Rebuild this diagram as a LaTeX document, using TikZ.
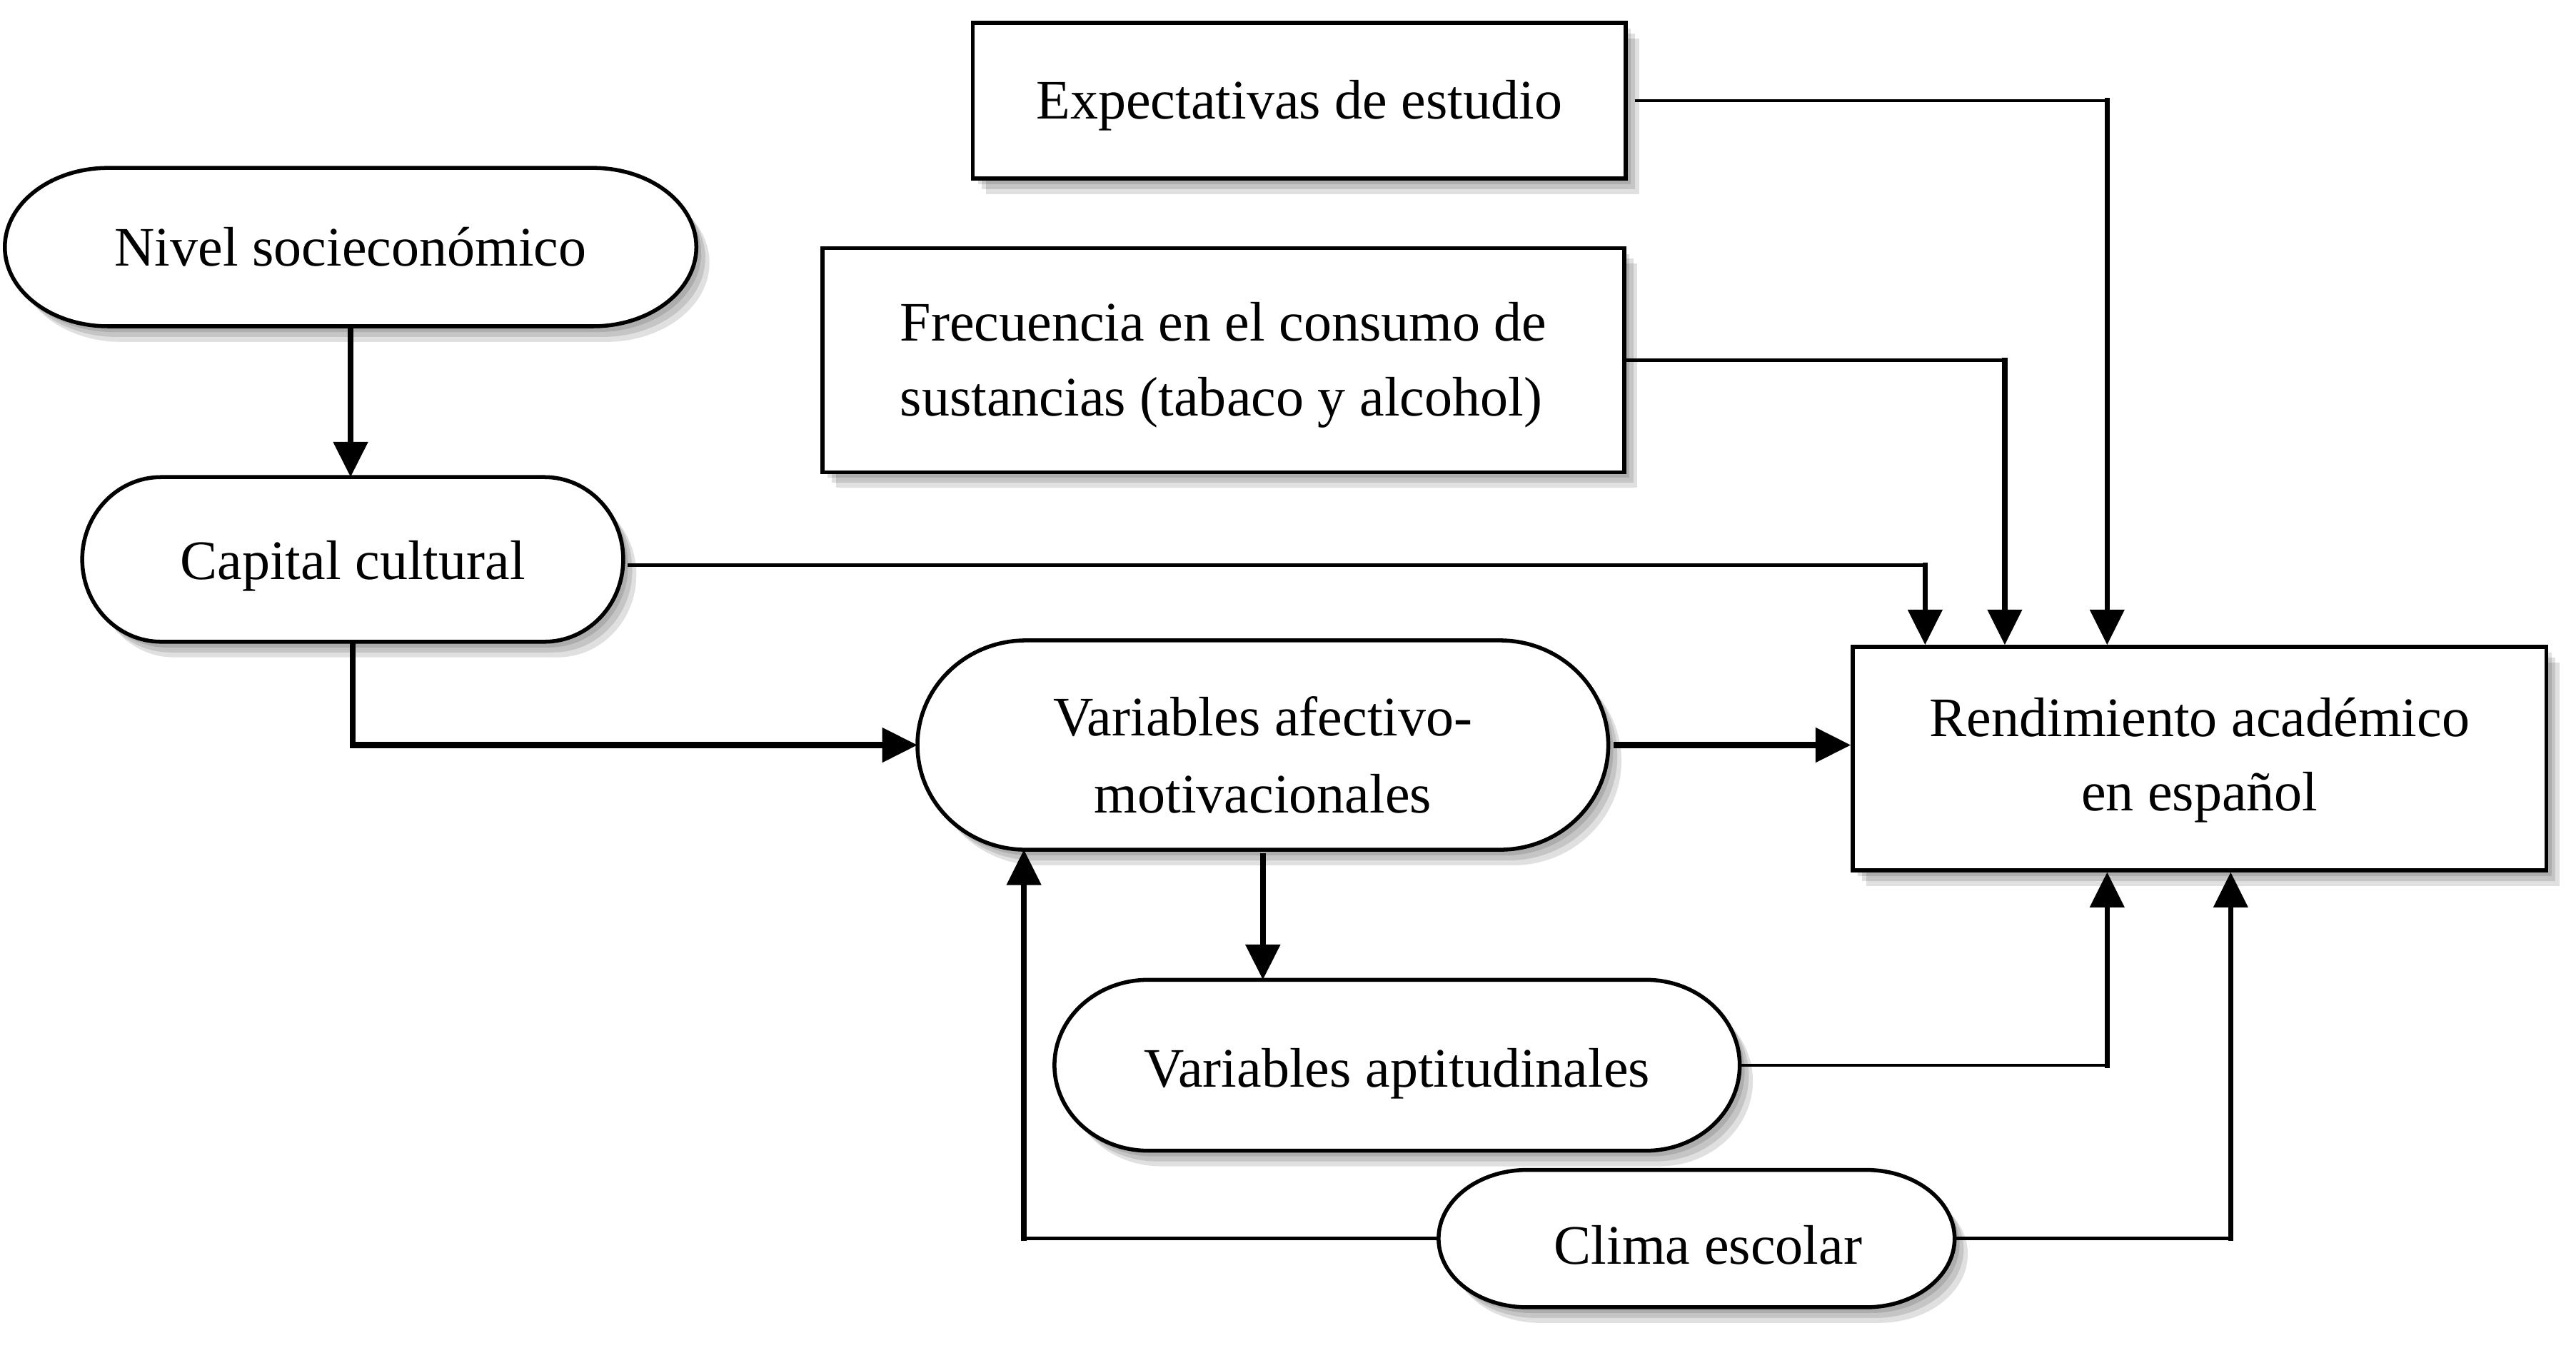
\documentclass[tikz,border=0pt]{standalone}
\usepackage{fontspec}
\setmainfont{Liberation Serif}
\usetikzlibrary{arrows.meta,calc}
\pgfdeclarelayer{bg}
\pgfsetlayers{bg,main}
\tikzset{
  lbl/.style={inner sep=0pt, align=center, font={\fontsize{19.3}{25.9}\selectfont}},
  softshadow/.style={
    preaction={fill=black, opacity=0.12, transform canvas={shift={(1.6mm,-1.9mm)}}},
    preaction={fill=black, opacity=0.12, transform canvas={shift={(1.1mm,-1.3mm)}}},
    preaction={fill=black, opacity=0.12, transform canvas={shift={(0.6mm,-0.7mm)}}}},
  sbox/.style={inner sep=0pt, draw=none},
  rbox/.style={inner sep=0pt, draw=black, line width=0.48mm, fill=white, softshadow},
  stad/.style={draw=black, line width=0.48mm, fill=white, softshadow},
  thinh/.style={line width=0.4mm, line cap=rect},
  vert/.style={line width=0.64mm, line cap=rect},
  thickl/.style={line width=0.72mm},
  tip/.style={-{Triangle[length=4.3mm,width=4.1mm]}},
}
\newcommand\mystad[2]{%
 \path[stad] let \p1=(#1.north west), \p2=(#1.south east), \p3=(#1.center),
   \n1={#2}, \n2={0.5523*(\y1-\y3)} in
 ({\x1+\n1},\y1) -- ({\x2-\n1},\y1)
 .. controls ({\x2-0.4477*\n1},\y1) and (\x2,{\y3+\n2}) .. (\x2,\y3)
 .. controls (\x2,{\y3-\n2}) and ({\x2-0.4477*\n1},\y2) .. ({\x2-\n1},\y2)
 -- ({\x1+\n1},\y2)
 .. controls ({\x1+0.4477*\n1},\y2) and (\x1,{\y3-\n2}) .. (\x1,\y3)
 .. controls (\x1,{\y3+\n2}) and ({\x1+0.4477*\n1},\y1) .. ({\x1+\n1},\y1) -- cycle;}
\begin{document}
\begin{tikzpicture}[x=0.2mm,y=-0.2mm]
\useasboundingbox (0,0) rectangle (1568,820.5);

% rectangular boxes
\node[rbox, minimum width=79.48mm, minimum height=18.96mm] (exp) at (790.9,61.3) {};
\node[rbox, minimum width=97.6mm, minimum height=27.28mm] (frc) at (744.7,219.2) {};
\node[rbox, minimum width=84.44mm, minimum height=27.18mm] (rend) at (1338.9,461.7) {};

% rounded (stadium) boxes
\node[sbox, minimum width=84.04mm, minimum height=19.14mm] (niv) at (213.4,150.4) {};
\node[sbox, minimum width=65.72mm, minimum height=19.9mm] (cap) at (214.7,340.5) {};
\node[sbox, minimum width=83.96mm, minimum height=25.34mm] (var) at (768.7,453.5) {};
\node[sbox, minimum width=83.28mm, minimum height=20.66mm] (apt) at (850.4,648.4) {};
\node[sbox, minimum width=62.68mm, minimum height=16.58mm] (cli) at (1032.7,753.9) {};

\begin{pgfonlayer}{bg}
\mystad{niv}{12.6mm}
\mystad{cap}{9.6mm}
\mystad{var}{13.2mm}
\mystad{apt}{11.4mm}
\mystad{cli}{10.8mm}
\end{pgfonlayer}

% texts
\node[lbl] (texp) at ([yshift=-0.6mm]exp.center) {Expectativas de estudio};
\node[lbl, align=left] (tfrc) at ([yshift=-0.6mm]frc.center) {Frecuencia en el consumo de\\sustancias (tabaco y alcohol)};
\node[lbl] (trend) at ([yshift=-0.2mm]rend.center) {Rendimiento académico\\en español};
\node[lbl] (tniv) at (niv.center) {Nivel socieconómico};
\node[lbl] (tcap) at ([yshift=-0.8mm]cap.center) {Capital cultural};
\node[lbl, font={\fontsize{19.3}{26.75}\selectfont}] (tvar) at ([yshift=-1.2mm]var.center) {Variables afectivo-\\motivacionales};
\node[lbl] (tapt) at ([yshift=-1.0mm]apt.center) {Variables aptitudinales};
\node[lbl] (tcli) at ([xshift=1.4mm,yshift=-0.8mm]cli.center) {Clima escolar};

% helper coordinates
\path ([xshift=0.7mm,yshift=-0.7mm]cap.east) coordinate (capo);
\path ([xshift=1.08mm]exp.east) coordinate (expo);
\path ([xshift=9.04mm]rend.north west) coordinate (rin1);
\path ([xshift=18.74mm]rend.north west) coordinate (rin2);
\path ([xshift=31.2mm]rend.north west) coordinate (rin3);
\path ([xshift=31.2mm]rend.south west) coordinate (rin4);
\path ([xshift=46.24mm]rend.south west) coordinate (rin5);
\path ([xshift=12.96mm]var.south west) coordinate (vin);

% thick connectors
\draw[thickl,tip] (niv.south) -- (niv.south |- cap.north);
\draw[thickl,tip] (cap.south) |- (var.west);
\draw[thickl,tip] ([xshift=0.64mm]var.east) -- (var.east -| rend.west);
\draw[thickl,tip] ([yshift=-0.4mm]var.south) -- (var.south |- apt.north);

% thin connectors into Rendimiento
\draw[thinh] (capo) -- (capo -| rin1);
\draw[vert,tip] (capo -| rin1) -- (rin1);
\draw[thinh] (frc.east) -- (frc.east -| rin2);
\draw[vert,tip] (frc.east -| rin2) -- (rin2);
\draw[thinh] (expo) -- (expo -| rin3);
\draw[vert,tip] (expo -| rin3) -- (rin3);
\draw[thinh] (apt.east) -- (apt.east -| rin4);
\draw[vert,tip] (apt.east -| rin4) -- (rin4);
\draw[thinh] (cli.east) -- (cli.east -| rin5);
\draw[vert,tip] (cli.east -| rin5) -- (rin5);
% Clima -> Variables afectivo-motivacionales
\draw[thinh] (cli.west) -- (cli.west -| vin);
\draw[vert,tip] (cli.west -| vin) -- (vin);
\end{tikzpicture}
\end{document}
